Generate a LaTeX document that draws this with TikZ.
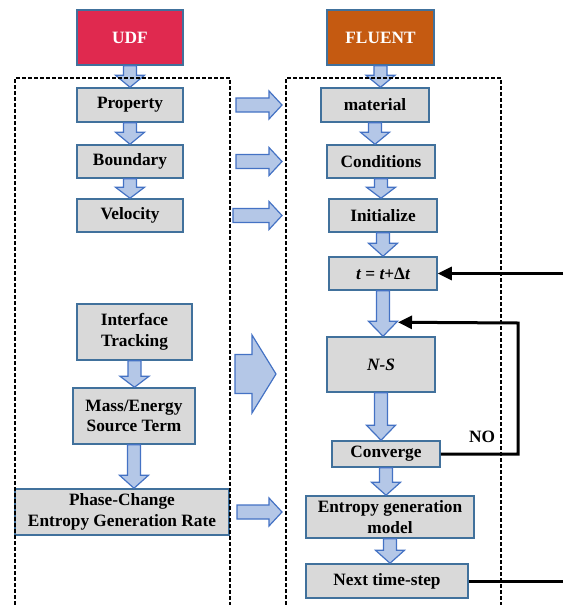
\documentclass[tikz,border=0pt]{standalone}
\usepackage{fontspec}
\setmainfont{Liberation Serif}
\usetikzlibrary{calc,arrows.meta}
\definecolor{udfred}{HTML}{E0294F}
\definecolor{fluentorange}{HTML}{C55A11}
\definecolor{boxgray}{HTML}{D9D9D9}
\definecolor{boxblue}{HTML}{41719C}
\definecolor{arrowfill}{HTML}{B4C7E7}
\definecolor{arrowline}{HTML}{4472C4}
\tikzset{
  box/.style={draw=boxblue, line width=1.5pt, fill=boxgray, align=center, inner sep=0pt,
    font=\fontsize{17.3}{20.5}\selectfont\bfseries},
  topbox/.style={box, text=white, minimum width=106pt, minimum height=55pt},
  blockarrow/.style={draw=arrowline, fill=arrowfill, line width=1.2pt, line join=miter},
  loopline/.style={line width=3pt, -{Triangle[length=14pt,width=13pt]}},
  frame/.style={line width=1.2pt, dash pattern=on 4pt off 2pt},
}
% vertical block arrow: from node, to node, head length
\newcommand{\blockdown}[3]{%
  \draw[blockarrow] let \p1=(#1.south), \p2=(#2.north) in
    (\x1-6.5pt,\y1) -- (\x1+6.5pt,\y1) -- (\x1+6.5pt,\y2+#3) -- (\x1+14.5pt,\y2+#3)
    -- (\x1,\y2) -- (\x1-14.5pt,\y2+#3) -- (\x1-6.5pt,\y2+#3) -- cycle;}
% horizontal block arrow: y reference, x start, x tip, half shaft, half head, head length
\newcommand{\blockright}[6]{%
  \draw[blockarrow] let \p1=#1 in
    (#2pt,\y1-#4pt) -- (#3pt-#6pt,\y1-#4pt) -- (#3pt-#6pt,\y1-#5pt) -- (#3pt,\y1)
    -- (#3pt-#6pt,\y1+#5pt) -- (#3pt-#6pt,\y1+#4pt) -- (#2pt,\y1+#4pt) -- cycle;}
\begin{document}
\begin{tikzpicture}[x=1pt, y=-1pt]
      \useasboundingbox (0,0) rectangle (563,605);
      \coordinate (rightedge) at (563,0);
      %
      % UDF column
      \node[topbox, fill=udfred] (udf) at (130,37.5) {UDF};
      \node[box, minimum width=106pt, minimum height=34pt] (prop) at (130,105) {Property};
      \node[box, minimum width=106pt, minimum height=33pt] (bound) at (130,161.5) {Boundary};
      \node[box, minimum width=106pt, minimum height=33pt] (velo) at (130,215.5) {Velocity};
      \node[box, minimum width=115pt, minimum height=56pt] (iface) at (134.5,332) {Interface\\Tracking};
      \node[box, minimum width=122pt, minimum height=56pt] (mass) at (134,416) {Mass/Energy\\Source Term};
      \node[box, minimum width=214pt, minimum height=46pt] (phase) at (122,512) {Phase-Change\\Entropy Generation Rate};
      %
      % FLUENT column
      \node[topbox, fill=fluentorange, minimum width=107pt] (fluent) at (380.5,37.5) {FLUENT};
      \node[box, minimum width=108pt, minimum height=34pt] (mat) at (375,105) {material};
      \node[box, minimum width=108pt, minimum height=33pt] (cond) at (381,161.5) {Conditions};
      \node[box, minimum width=108pt, minimum height=33pt] (init) at (383,215.5) {Initialize};
      \node[box, minimum width=108pt, minimum height=33pt] (tstep) at (383,273.5) {\itshape t\upshape{} = \itshape t\upshape+Δ\itshape t};
      \node[box, minimum width=108pt, minimum height=55pt] (ns) at (381,364.5) {\itshape N-S};
      \node[box, minimum width=108pt, minimum height=26pt] (conv) at (386,454) {Converge};
      \node[box, minimum width=168pt, minimum height=42pt] (entr) at (390,517) {Entropy generation\\model};
      \node[box, minimum width=162pt, minimum height=34pt] (next) at (387,581) {Next time-step};
      %
      % block arrows down
      \blockdown{udf}{prop}{12pt}
      \blockdown{prop}{bound}{12pt}
      \blockdown{bound}{velo}{11pt}
      \blockdown{iface}{mass}{11pt}
      \blockdown{mass}{phase}{13pt}
      \blockdown{fluent}{mat}{12pt}
      \blockdown{mat}{cond}{12pt}
      \blockdown{cond}{init}{11pt}
      \blockdown{init}{tstep}{13pt}
      \blockdown{tstep}{ns}{15pt}
      \blockdown{ns}{conv}{15pt}
      \blockdown{conv}{entr}{13pt}
      \blockdown{entr}{next}{13pt}
      %
      % block arrows to the right
      \blockright{(prop.east)}{236}{282}{7}{14}{13}
      \blockright{(bound.east)}{236}{282}{7}{14}{13}
      \blockright{(velo.east)}{233}{282}{7}{14}{13}
      \blockright{($(iface.south)!0.5!(mass.north)$)}{235}{276}{19.5}{39}{24}
      \blockright{(phase.east)}{237}{282}{7}{14}{13}
      %
      % time loop and iteration loop
      \draw[loopline] (tstep.east -| rightedge) -- (tstep.east);
      \coordinate (nsin) at ($(ns.north)+(17,-14)$);
      \draw[loopline] (conv.east) -| (518,323) -- (nsin);
      \node[font=\fontsize{17.3}{20.5}\selectfont\bfseries] (nolabel) at (482,437) {NO};
      \draw[line width=3pt] (next.east) -- (next.east -| rightedge);
      %
      \draw[frame] (15,605) -- (15,78) -- (230,78) -- (230,605);     % UDF frame
      \draw[frame] (286,605) -- (286,78) -- (501,78) -- (501,605);   % FLUENT frame
      %
    \end{tikzpicture}
\end{document}
